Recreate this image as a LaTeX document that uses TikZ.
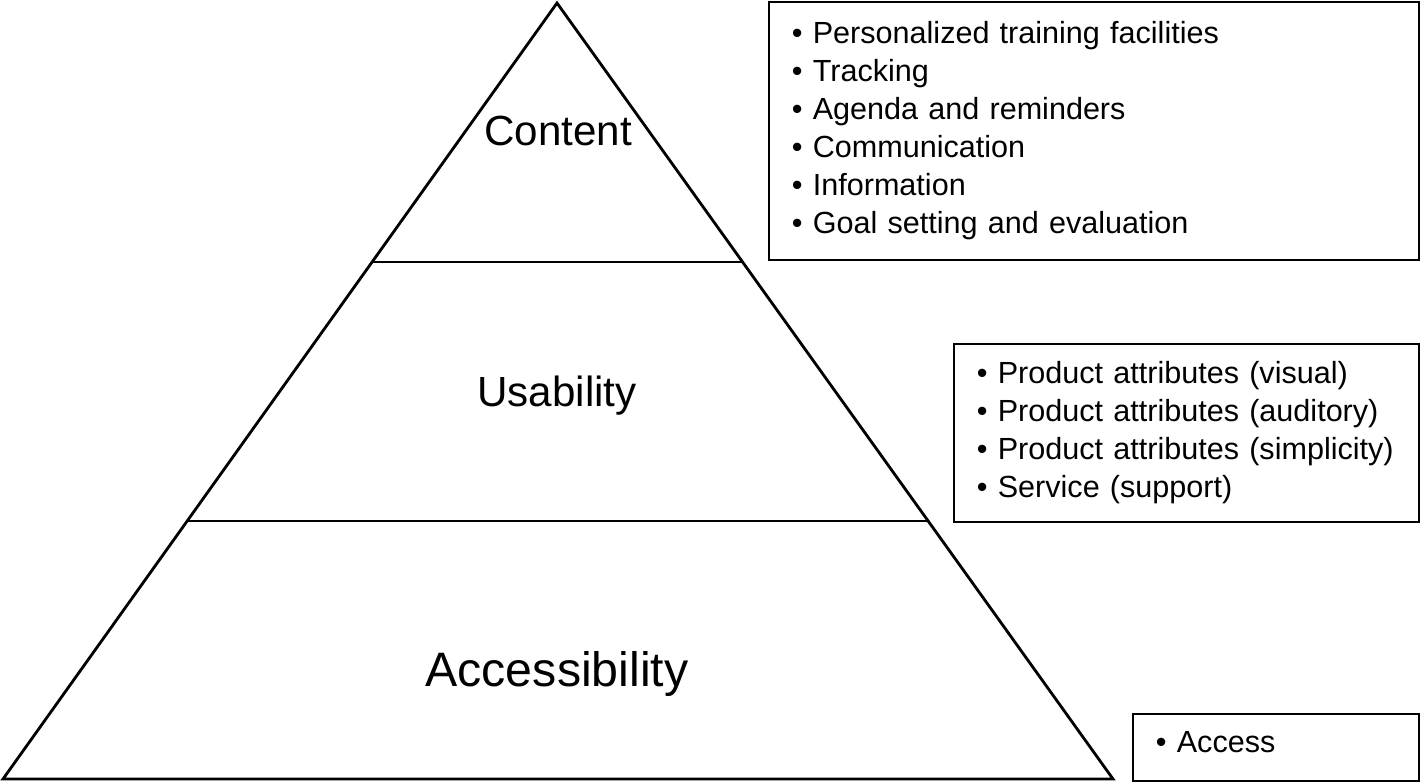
\documentclass[tikz,border=0pt]{standalone}
\usepackage{fontspec}
\setmainfont{Liberation Sans}
\usetikzlibrary{calc}

\begin{document}
\begin{tikzpicture}[
  x=0.02cm,
  y=-0.02cm,
  pyramid/.style={
    line width=1.6pt,
    line join=miter
  },
  layer/.style={
    anchor=base,
    inner sep=0pt,
    font=\fontsize{24}{28}\selectfont
  },
  itembox/.style={
    draw,
    line width=1.1pt,
    anchor=north west,
    align=left,
    inner xsep=0.46cm,
    inner ysep=0pt,
    font=\fontsize{17.4}{21.6}\selectfont
  }
]
  \useasboundingbox (0,0) rectangle (1421,782);
  % pyramid outline
  \coordinate (apex) at (557,3);
  \coordinate (baseleft) at (3,779);
  \coordinate (baseright) at (1113,779);
  \draw[pyramid] (apex) -- (baseleft) -- (baseright) -- cycle;
  % dividers between the levels
  \coordinate (upperleft) at ($(apex)!0.3338!(baseleft)$);
  \coordinate (upperright) at ($(apex)!0.3338!(baseright)$);
  \coordinate (lowerleft) at ($(apex)!0.6675!(baseleft)$);
  \coordinate (lowerright) at ($(apex)!0.6675!(baseright)$);
  \draw[pyramid] (upperleft) -- (upperright);
  \draw[pyramid] (lowerleft) -- (lowerright);
  % level names
  \node[layer] (content) at (558,145) {Content};
  \node[layer] (usability) at (557,406) {Usability};
  \node[layer,font=\fontsize{27.5}{32}\selectfont] (accessibility) at (557,686)
    {Accessibility};
  % item lists
  \node[itembox,text width=12.08cm,minimum height=5.16cm] (contentbox) at (768,1)
    {• Personalized training facilities\\
     • Tracking\\
     • Agenda and reminders\\
     • Communication\\
     • Information\\
     • Goal setting and evaluation};
  \node[itembox,text width=8.38cm,minimum height=3.56cm] (usabilitybox) at (953,343)
    {• Product attributes (visual)\\
     • Product attributes (auditory)\\
     • Product attributes (simplicity)\\
     • Service (support)};
  \node[itembox,text width=4.8cm,minimum height=1.34cm,text depth=0.2cm] (accessbox) at (1132,713)
    {• Access};
\end{tikzpicture}
\end{document}
